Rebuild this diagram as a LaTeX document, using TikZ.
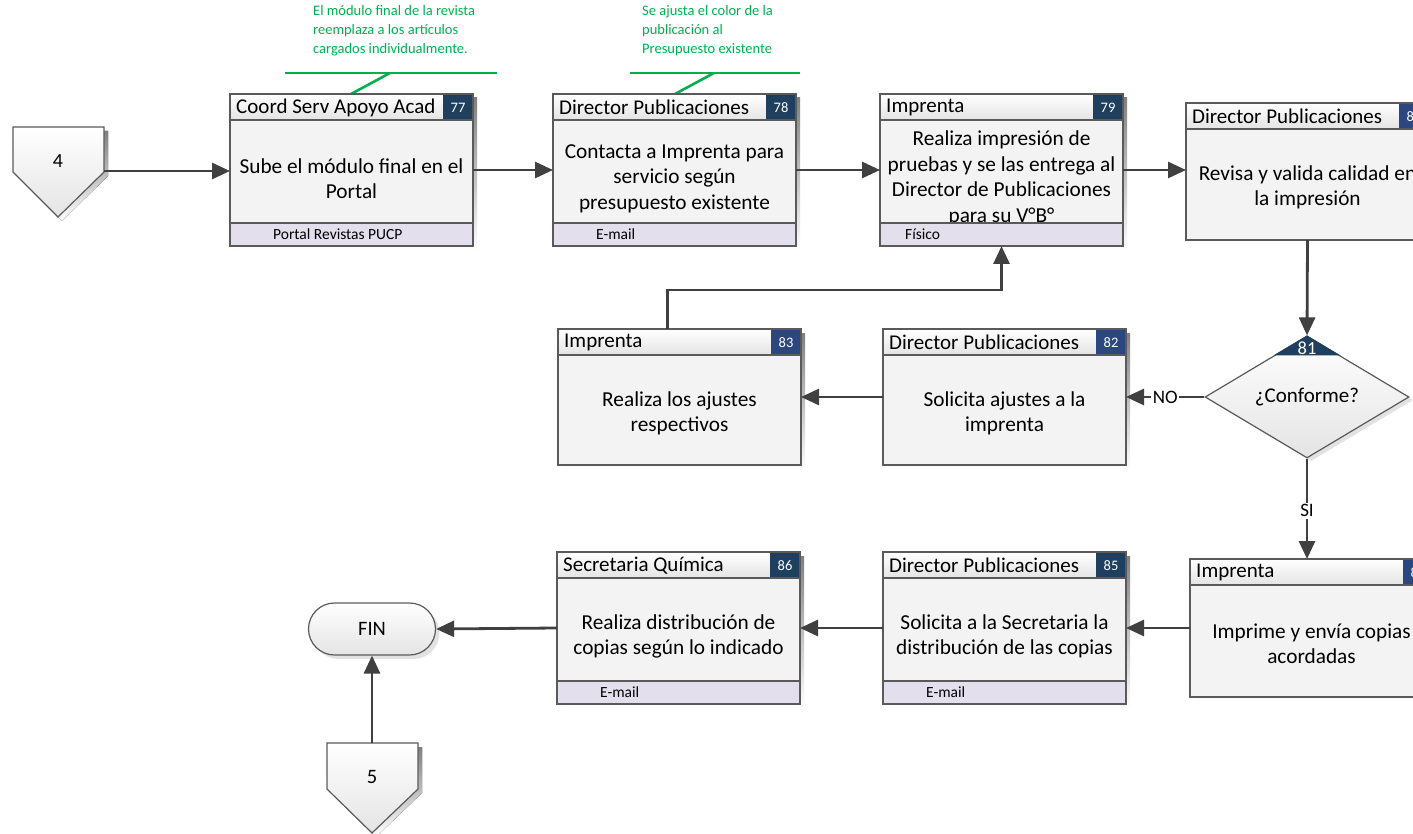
\documentclass[tikz,border=0pt]{standalone}
\usepackage{fontspec}
\setmainfont{Carlito}
\usetikzlibrary{arrows.meta,shapes.geometric}

\definecolor{edge}{HTML}{5A5A5A}
\definecolor{wire}{HTML}{404040}
\definecolor{bodyfill}{HTML}{F3F3F3}
\definecolor{headgray}{HTML}{E4E4E4}
\definecolor{footfill}{HTML}{E4DFEC}
\definecolor{tagteal}{HTML}{1F3F5F}
\definecolor{tagblue}{HTML}{2C4680}
\definecolor{note}{HTML}{00B050}
\definecolor{shade}{HTML}{E2E2E2}

\tikzset{
  conn/.style={draw=wire, line width=2.8pt, -{Triangle[length=18pt,width=16pt]}},
  taskframe/.style={rectangle, draw=edge, fill=bodyfill, line width=1.2pt,
    minimum width=243pt, inner sep=0pt, outer sep=0pt},
  tasktext/.style={align=center, inner sep=0pt, font=\fontsize{21.3}{25.5}\selectfont},
  headtext/.style={inner sep=0pt, font=\fontsize{21}{24}\selectfont},
  foottext/.style={inner sep=0pt, font=\fontsize{15.5}{17}\selectfont},
  tagtext/.style={inner sep=0pt, text=white, font=\fontsize{14.5}{16}\selectfont},
  edgelabel/.style={fill=white, inner sep=1.5pt, font=\fontsize{19}{21}\selectfont},
  notetext/.style={align=left, inner sep=0pt, text=note, font=\fontsize{14.5}{19}\selectfont},
  noteline/.style={draw=note, line width=2.6pt},
  offpage/.style={draw=edge, line width=1.2pt, top color=white, bottom color=headgray},
}

% horizontal offset of the medium label inside the footer
\newcommand{\mediumx}{43}

% activity box: #1 name, #2 left, #3 top, #4 height, #5 role, #6 number,
% #7 tag colour, #8 description, #9 medium (may be empty)
\newcommand{\task}[9]{%
  \fill[shade] (#2+4,#3+4) rectangle (#2+247,#3+#4+4);
  \node[taskframe, minimum height=#4pt, anchor=north west] (#1) at (#2,#3) {};
  \node[tasktext] (#1-text) at (#2+121.5,#3+84.5) {#8};
  \if\relax\detokenize{#9}\relax\else
    \path[fill=footfill, draw=edge, line width=1.2pt] (#2,#3+#4-23) rectangle (#2+243,#3+#4);
    \node[foottext, anchor=west] (#1-medium) at (#2+\mediumx,#3+#4-11.5) {#9};
  \fi
  \path[draw=edge, line width=1.2pt, top color=white, bottom color=headgray] (#2,#3) rectangle (#2+243,#3+26);
  \node[headtext, anchor=west] (#1-role) at (#2+6,#3+13.5) {#5};
  \fill[#7] (#2+213,#3+0.6) rectangle (#2+242.4,#3+25.4);
  \node[tagtext] (#1-num) at (#2+228,#3+13.5) {#6};
}

\begin{document}
\begin{tikzpicture}[x=1pt,y=-1pt]
\begin{scope}
\clip (0,0) rectangle (1413,834);

% notes above the first two activities
\node[notetext, anchor=north west] (note1) at (313,5)
  {El módulo final de la revista\\reemplaza a los artículos\\cargados individualmente.};
\node[notetext, anchor=north west] (note2) at (642,5)
  {Se ajusta el color de la\\publicación al\\Presupuesto existente};
\coordinate (note1a) at (285,73);
\coordinate (note1b) at (497,73);
\coordinate (note1c) at (390,73);
\coordinate (note1d) at (351,94);
\coordinate (note2a) at (630,73);
\coordinate (note2b) at (800,73);
\coordinate (note2c) at (714,73);
\coordinate (note2d) at (675,94);
\draw[noteline] (note1a) -- (note1b);
\draw[noteline] (note1c) -- (note1d);
\draw[noteline] (note2a) -- (note2b);
\draw[noteline] (note2c) -- (note2d);

% off-page connector 4
\fill[shade] (17,131) -- (108,131) -- (108,176) -- (62,221) -- (17,176) -- cycle;
\path[offpage] (13,127) -- (104,127) -- (104,172) -- (58,217) -- (13,172) -- cycle;
\node[font=\fontsize{20}{22}\selectfont] (off4) at (58,161) {4};
\coordinate (off4out) at (104,171);

% activities
\task{n77}{230}{94}{152}{Coord Serv Apoyo Acad}{77}{tagteal}
  {Sube el módulo final en el\\Portal}{Portal Revistas PUCP}
\task{n78}{553}{94}{152}{Director Publicaciones}{78}{tagteal}
  {Contacta a Imprenta para\\servicio según\\presupuesto existente}{E-mail}
\renewcommand{\mediumx}{25}
\task{n79}{880}{94}{152}{Imprenta}{79}{tagteal}
  {Realiza impresión de\\pruebas y se las entrega al\\Director de Publicaciones\\para su V°B°}{Físico}
\renewcommand{\mediumx}{43}
\task{n80}{1186}{103}{137}{Director Publicaciones}{80}{tagblue}
  {Revisa y valida calidad en\\la impresión}{}
\task{n83}{558}{329}{136}{Imprenta}{83}{tagblue}
  {Realiza los ajustes\\respectivos}{}
\task{n82}{883}{329}{136}{Director Publicaciones}{82}{tagblue}
  {Solicita ajustes a la\\imprenta}{}
\task{n84}{1190}{559}{138}{Imprenta}{84}{tagblue}
  {Imprime y envía copias\\acordadas}{}
\task{n85}{883}{552}{152}{Director Publicaciones}{85}{tagteal}
  {Solicita a la Secretaria la\\distribución de las copias}{E-mail}
\task{n86}{557}{552}{152}{Secretaria Química}{86}{tagteal}
  {Realiza distribución de\\copias según lo indicado}{E-mail}

% decision 81
\node[diamond, aspect=1.7, fill=shade, minimum width=204pt, minimum height=122pt,
  inner sep=0pt] (d81s) at (1311,400) {};
\node[diamond, aspect=1.7, draw=edge, line width=1.2pt, top color=white, bottom color=headgray,
  minimum width=204pt, minimum height=122pt, inner sep=0pt,
  font=\fontsize{21}{24}\selectfont] (d81) at (1307,397) {¿Conforme?};
\fill[tagteal] (d81.north) -- ++(-33.4,20) -- ++(66.8,0) -- cycle;
\node[tagtext, font=\fontsize{18.5}{20}\selectfont] (d81-num) at ([yshift=-12.5pt]d81.north) {81};

% end terminal
\node[rectangle, rounded corners=26pt, fill=shade, minimum width=127pt, minimum height=52pt]
  (fins) at (376,633) {};
\node[rectangle, rounded corners=26pt, draw=edge, line width=1.2pt, top color=white,
  bottom color=headgray, minimum width=127pt, minimum height=52pt,
  font=\fontsize{20.5}{22}\selectfont] (fin) at (372,629) {FIN};

% off-page connector 5
\fill[shade] (331,747) -- (422,747) -- (422,793) -- (376,837) -- (331,793) -- cycle;
\path[offpage] (327,743) -- (418,743) -- (418,789) -- (372,833) -- (327,789) -- cycle;
\node[font=\fontsize{20.5}{22}\selectfont] (off5) at (372,777) {5};
\coordinate (off5in) at (372,743);

% flow
\draw[conn] (off4out) -- (off4out -| n77.west);
\draw[conn] (n77.east) -- (n78.west);
\draw[conn] (n78.east) -- (n79.west);
\draw[conn] (n79.east) -- (n79.east -| n80.west);
\draw[conn] (n80.south) -- (d81.north);
\draw[conn] (d81.west) -- node[edgelabel] {NO} (d81.west -| n82.east);
\draw[conn] (n82.west) -- (n83.east);
\draw[conn] ([xshift=-12pt]n83.north) -- ++(0,-39) -| (n79.south);
\draw[conn] (d81.south) -- node[edgelabel, pos=0.52] {SI} (d81.south |- n84.north);
\draw[conn] (n84.west) -- (n85.east);
\draw[conn] (n85.west) -- (n86.east);
\draw[conn] (n86.west) -- (fin.east);
\draw[conn] (off5in) -- (fin.south);
\end{scope}
\pgfresetboundingbox
\useasboundingbox (0,0) rectangle (1413,834);
\end{tikzpicture}
\end{document}
